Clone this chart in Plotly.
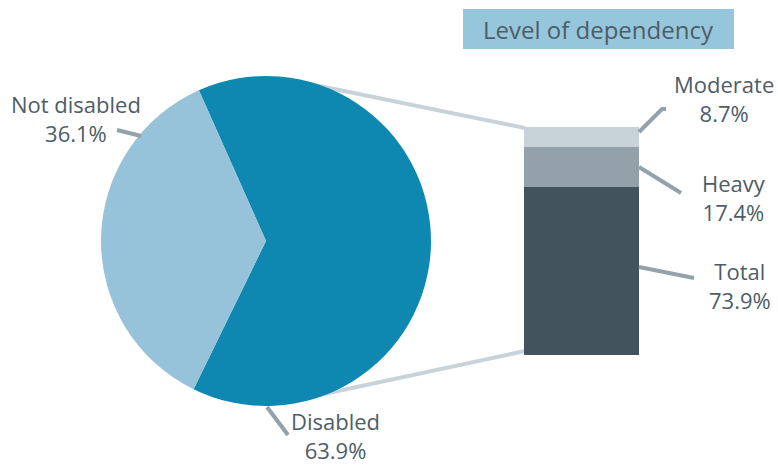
import plotly.graph_objects as go

W, H = 778, 466

pie_labels = ["Disabled", "Not disabled"]
pie_values = [63.9, 36.1]
pie_colors = ["#0e88b0", "#96c2da"]

bar_labels = ["Total", "Heavy", "Moderate"]
bar_values = [73.9, 17.4, 8.7]
bar_colors = ["#43535d", "#93a2aa", "#c8d2d9"]

title_text = "Level of dependency"

FONT = "Open Sans"
TXT = "#4d5d67"

def px(x):
    return x / W

def py(y):
    return 1 - y / H

fig = go.Figure()

fig.add_trace(go.Pie(
    labels=pie_labels, values=pie_values, sort=False,
    direction="clockwise", rotation=-24,
    marker=dict(colors=pie_colors, line=dict(width=0)),
    textinfo="none", hoverinfo="label+percent", showlegend=False,
    domain=dict(x=[px(101), px(431)], y=[py(406), py(76)]),
))

for lab, val, col in zip(bar_labels, bar_values, bar_colors):
    fig.add_trace(go.Bar(
        x=[0], y=[val], name=lab, marker=dict(color=col, line=dict(width=0)),
        width=1, showlegend=False, xaxis="x", yaxis="y",
    ))

shapes = []
# title box
shapes.append(dict(type="rect", xref="paper", yref="paper",
                   x0=px(463), x1=px(734), y0=py(49), y1=py(9),
                   fillcolor="#96c6dc", line=dict(width=0), layer="below"))
# connector lines (pie -> bar)
for (x0, y0, x1, y1) in [(300, 82, 525, 128), (310, 397, 525, 351)]:
    shapes.append(dict(type="line", xref="paper", yref="paper",
                       x0=px(x0), y0=py(y0), x1=px(x1), y1=py(y1),
                       line=dict(color="#c8d2d9", width=4), layer="below"))
# leader lines
leaders = [
    [(117, 130), (141, 136)],
    [(267, 407), (288, 435)],
    [(639, 132), (662, 109), (666, 109)],
    [(639, 167), (681, 193)],
    [(639, 267), (694, 278)],
]
for pts in leaders:
    path = "M " + " L ".join(f"{px(x)},{py(y)}" for x, y in pts)
    shapes.append(dict(type="path", xref="paper", yref="paper", path=path,
                       line=dict(color="#93a2aa", width=4)))

annotations = []
def label(x, y, text, size=22):
    annotations.append(dict(xref="paper", yref="paper", x=px(x), y=py(y),
                            text=text, showarrow=False, xanchor="center",
                            yanchor="middle", align="center", borderpad=0,
                            font=dict(family=FONT, size=size, color=TXT)))

label(598, 29, title_text, size=24)
label(76, 118, f"{pie_labels[1]}<br>{pie_values[1]}%")
label(335, 435, f"{pie_labels[0]}<br>{pie_values[0]}%")
label(724, 98, f"{bar_labels[2]}<br>{bar_values[2]}%")
label(734, 197, f"{bar_labels[1]}<br>{bar_values[1]}%")
label(740, 285, f"{bar_labels[0]}<br>{bar_values[0]}%")

fig.update_layout(
    width=W, height=H, margin=dict(l=0, r=0, t=0, b=0),
    paper_bgcolor="white", plot_bgcolor="rgba(0,0,0,0)",
    barmode="stack", bargap=0,
    xaxis=dict(domain=[px(524), px(639)], range=[-0.5, 0.5], visible=False, fixedrange=True),
    yaxis=dict(domain=[py(355), py(127)], range=[0, 100], visible=False, fixedrange=True),
    shapes=shapes, annotations=annotations,
)

fig.write_html("out.html")
